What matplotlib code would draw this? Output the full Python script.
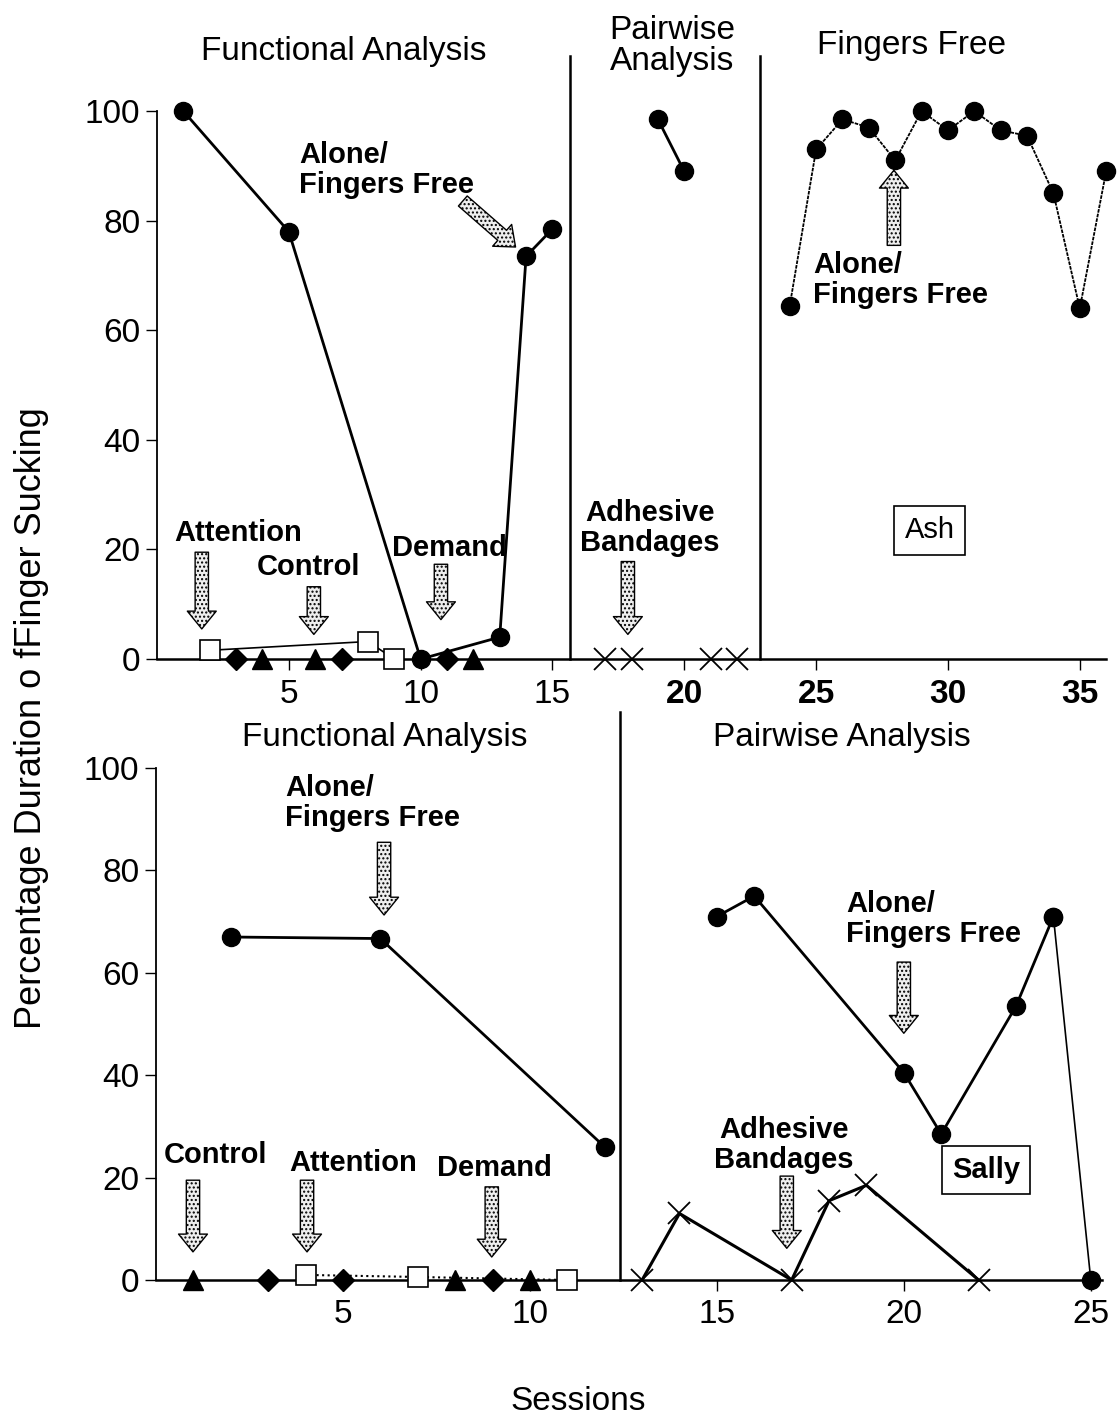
import matplotlib
matplotlib.use("Agg")
import matplotlib.pyplot as plt

plt.rcParams['font.family'] = ['Liberation Sans', 'DejaVu Sans']
plt.rcParams['hatch.linewidth'] = 1.0

# ---- top panel (Ash) ----
top_dot_x = [1, 5, 10, 13, 14, 15]
top_dot_y = [100, 78, 0, 4, 73.5, 78.5]
top_sq_x = [2, 8, 9]
top_sq_y = [1.6, 3.2, 0]
top_dia_x = [3, 7, 11]
top_dia_y = [0, 0, 0]
top_tri_x = [4, 6, 12]
top_tri_y = [0, 0, 0]
top_pair_dot_x = [19, 20]
top_pair_dot_y = [98.5, 89]
top_band_x = [17, 18, 21, 22]
top_band_y = [0, 0, 0, 0]
top_free_x = [24, 25, 26, 27, 28, 29, 30, 31, 32, 33, 34, 35, 36]
top_free_y = [64.5, 93, 98.5, 97, 91, 100, 96.5, 100, 96.5, 95.5, 85, 64, 89]
top_phase = [15.66, 22.87]

# ---- bottom panel (Sally) ----
bot_dot_x = [2, 6, 12]
bot_dot_y = [67, 66.7, 26]
bot_sq_x = [4, 7, 11]
bot_sq_y = [1, 0.6, 0]
bot_dia_x = [3, 5, 9]
bot_dia_y = [0, 0, 0]
bot_tri_x = [1, 8, 10]
bot_tri_y = [0, 0, 0]
bot_pair_dot_x = [15, 16, 20, 21, 23, 24, 25]
bot_pair_dot_y = [71, 75, 40.5, 28.5, 53.5, 71, 0]
bot_band_x = [13, 14, 17, 18, 19, 22]
bot_band_y = [0, 13, 0, 15.5, 18.5, 0]
bot_phase = [12.4]

yticks = [0, 20, 40, 60, 80, 100]

fig = plt.figure(figsize=(11.18, 14.21), dpi=100)
ax1 = fig.add_axes([0.1404, 0.5362, 0.849, 0.3856])
ax2 = fig.add_axes([0.1395, 0.0992, 0.8462, 0.3603])


def style_axis(ax, xmax, xticks):
    ax.set_xlim(0, xmax)
    ax.set_ylim(0, 100)
    ax.spines['top'].set_visible(False)
    ax.spines['right'].set_visible(False)
    ax.spines['left'].set_linewidth(1.3)
    ax.spines['bottom'].set_linewidth(1.8)
    ax.set_yticks(yticks)
    ax.set_xticks(xticks)
    ax.tick_params(axis='both', labelsize=24, length=8, width=1, direction='out')
    ax.tick_params(axis='x', pad=6)
    ax.tick_params(axis='y', pad=4)


def block_arrow(ax, tail, tip):
    ax.annotate('', xy=tip, xytext=tail,
                arrowprops=dict(arrowstyle='simple,head_length=0.8,head_width=1.3,tail_width=0.6',
                                mutation_scale=16, fc='#eeeeee', ec='black', lw=1,
                                hatch='....', shrinkA=0, shrinkB=0))


bold = dict(fontsize=21, fontweight='bold')
dot = dict(marker='o', ms=13, color='black', clip_on=False, zorder=3)
sq = dict(marker='s', ms=14, mfc='white', mec='black', mew=1.2, clip_on=False, zorder=3)
dia = dict(marker='D', ms=11, color='black', ls='none', clip_on=False, zorder=3)
tri = dict(marker='^', ms=14, color='black', ls='none', clip_on=False, zorder=3)
cross = dict(marker='x', ms=16, mew=1.3, color='black', clip_on=False, zorder=3)

# top panel
style_axis(ax1, 36, [5, 10, 15, 20, 25, 30, 35])
ax1.set_xticklabels(['5', '10', '15', '20', '25', '30', '35'])
for lbl in ax1.get_xticklabels()[3:]:
    lbl.set_fontweight('bold')
ax1.plot(top_dot_x, top_dot_y, lw=2, **dot)
ax1.plot(top_sq_x, top_sq_y, lw=1.2, color='black', **sq)
ax1.plot(top_dia_x, top_dia_y, **dia)
ax1.plot(top_tri_x, top_tri_y, **tri)
ax1.plot(top_pair_dot_x, top_pair_dot_y, lw=2, **dot)
ax1.plot(top_band_x, top_band_y, ls='none', **cross)
ax1.plot(top_free_x, top_free_y, lw=1.3, ls=(0, (2, 0.6)), **dot)
for xv in top_phase:
    ax1.plot([xv, xv], [0, 110], color='black', lw=1.8, clip_on=False)

ax1.text(7.09, 110.8, 'Functional Analysis', fontsize=24, ha='center', va='center')
ax1.text(19.53, 111.9, 'Pairwise\nAnalysis', fontsize=24, ha='center', va='center', linespacing=1.0)
ax1.text(28.6, 112, 'Fingers Free', fontsize=24, ha='center', va='center')

ax1.text(5.38, 89.2, 'Alone/\nFingers Free', ha='left', va='center', linespacing=1.1, **bold)
block_arrow(ax1, (11.6, 83.6), (13.6, 75.2))
ax1.text(3.07, 23, 'Attention', ha='center', va='center', **bold)
block_arrow(ax1, (1.7, 19.5), (1.7, 5.5))
ax1.text(5.76, 16.8, 'Control', ha='center', va='center', **bold)
block_arrow(ax1, (5.95, 13.2), (5.95, 4.5))
ax1.text(11.1, 20.3, 'Demand', ha='center', va='center', **bold)
block_arrow(ax1, (10.77, 17.3), (10.77, 7.2))
ax1.text(18.7, 23.9, 'Adhesive\nBandages', ha='center', va='center', linespacing=1.1, **bold)
block_arrow(ax1, (17.86, 17.8), (17.86, 4.5))
ax1.text(24.9, 69.2, 'Alone/\nFingers Free', ha='left', va='center', linespacing=1.1, **bold)
block_arrow(ax1, (27.95, 75.5), (27.95, 89.2))
ax1.text(29.3, 23.5, 'Ash', ha='center', va='center', fontsize=21,
         bbox=dict(boxstyle='square,pad=0.35', fc='white', ec='black', lw=1.2))

# bottom panel
style_axis(ax2, 25.3, [5, 10, 15, 20, 25])
ax2.plot(bot_dot_x, bot_dot_y, lw=2, **dot)
ax2.plot(bot_sq_x, bot_sq_y, lw=1.5, ls=':', color='black', **sq)
ax2.plot(bot_dia_x, bot_dia_y, **dia)
ax2.plot(bot_tri_x, bot_tri_y, **tri)
ax2.plot(bot_pair_dot_x[:-1], bot_pair_dot_y[:-1], lw=2, **dot)
ax2.plot(bot_pair_dot_x[-2:], bot_pair_dot_y[-2:], lw=1.2, **dot)
ax2.plot(bot_band_x, bot_band_y, lw=2.2, **cross)
for xv in bot_phase:
    ax2.plot([xv, xv], [0, 111], color='black', lw=1.8, clip_on=False)

ax2.text(6.12, 105.9, 'Functional Analysis', fontsize=24, ha='center', va='center')
ax2.text(18.34, 105.9, 'Pairwise Analysis', fontsize=24, ha='center', va='center')

ax2.text(3.45, 93.2, 'Alone/\nFingers Free', ha='left', va='center', linespacing=1.1, **bold)
block_arrow(ax2, (6.1, 85.5), (6.1, 71.3))
ax2.text(1.58, 24.4, 'Control', ha='center', va='center', **bold)
block_arrow(ax2, (0.99, 19.5), (0.99, 5.5))
ax2.text(5.27, 22.9, 'Attention', ha='center', va='center', **bold)
block_arrow(ax2, (4.04, 19.5), (4.04, 5.5))
ax2.text(9.06, 21.9, 'Demand', ha='center', va='center', **bold)
block_arrow(ax2, (8.98, 18.2), (8.98, 4.5))
ax2.text(16.8, 26.4, 'Adhesive\nBandages', ha='center', va='center', linespacing=1.1, **bold)
block_arrow(ax2, (16.87, 20.3), (16.87, 6.2))
ax2.text(18.45, 70.5, 'Alone/\nFingers Free', ha='left', va='center', linespacing=1.1, **bold)
block_arrow(ax2, (20.0, 62.1), (20.0, 48.2))
ax2.text(22.2, 21.5, 'Sally', ha='center', va='center', fontsize=21, fontweight='bold',
         bbox=dict(boxstyle='square,pad=0.35', fc='white', ec='black', lw=1.2))

fig.text(578 / 1118, 1 - 1402 / 1421, 'Sessions', fontsize=24, ha='center', va='center')
fig.text(32 / 1118, 1 - 718 / 1421, 'Percentage Duration o fFinger Sucking', fontsize=26,
         rotation=90, ha='center', va='center')

fig.savefig('out.png', dpi=100)
